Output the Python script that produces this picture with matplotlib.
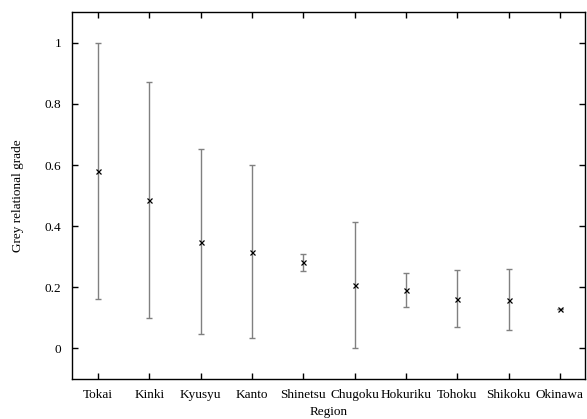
import numpy as np
import matplotlib.pyplot as plt

regions = ['Tokai', 'Kinki', 'Kyusyu', 'Kanto', 'Shinetsu', 'Chugoku',
           'Hokuriku', 'Tohoku', 'Shikoku', 'Okinawa']
grade_mean = [0.581, 0.485, 0.349, 0.317, 0.282, 0.208, 0.192, 0.163, 0.160, 0.130]
grade_max = [1.000, 0.872, 0.653, 0.600, 0.309, 0.413, 0.246, 0.256, 0.261, 0.130]
grade_min = [0.162, 0.100, 0.046, 0.035, 0.254, 0.000, 0.137, 0.071, 0.059, 0.130]

plt.rcParams['font.family'] = ['Liberation Serif', 'DejaVu Serif']
plt.rcParams['font.size'] = 9.5

x = np.arange(1, len(regions) + 1)
mean = np.array(grade_mean)
lo = mean - np.array(grade_min)
hi = np.array(grade_max) - mean

fig = plt.figure(figsize=(5.87, 4.19), dpi=100)
ax = fig.add_axes([0.1232, 0.0955, 0.8742, 0.8751])

# range bars first, then the mean markers on top
ax.errorbar(x, mean, yerr=[lo, hi], fmt='none', ecolor='#808080',
            elinewidth=1.0, capsize=2.2, capthick=1.0)
ax.plot(x, mean, 'x', color='black', markersize=3.6, markeredgewidth=0.9)

ax.set_xlim(0.5, 10.5)
ax.set_ylim(-0.1, 1.1)
ax.set_xticks(x)
ax.set_xticklabels(regions)
ax.set_yticks([0, 0.2, 0.4, 0.6, 0.8, 1.0])
ax.set_yticklabels(['0', '0.2', '0.4', '0.6', '0.8', '1'])
ax.tick_params(direction='in', length=4, width=1, top=True, right=True,
               colors='black')
ax.tick_params(axis='y', pad=8)
ax.tick_params(axis='x', pad=7)
for s in ax.spines.values():
    s.set_linewidth(1.0)

ax.set_xlabel('Region', labelpad=3.5)
ax.set_ylabel('Grey relational grade', labelpad=15)

fig.savefig('out.png', dpi=100)
